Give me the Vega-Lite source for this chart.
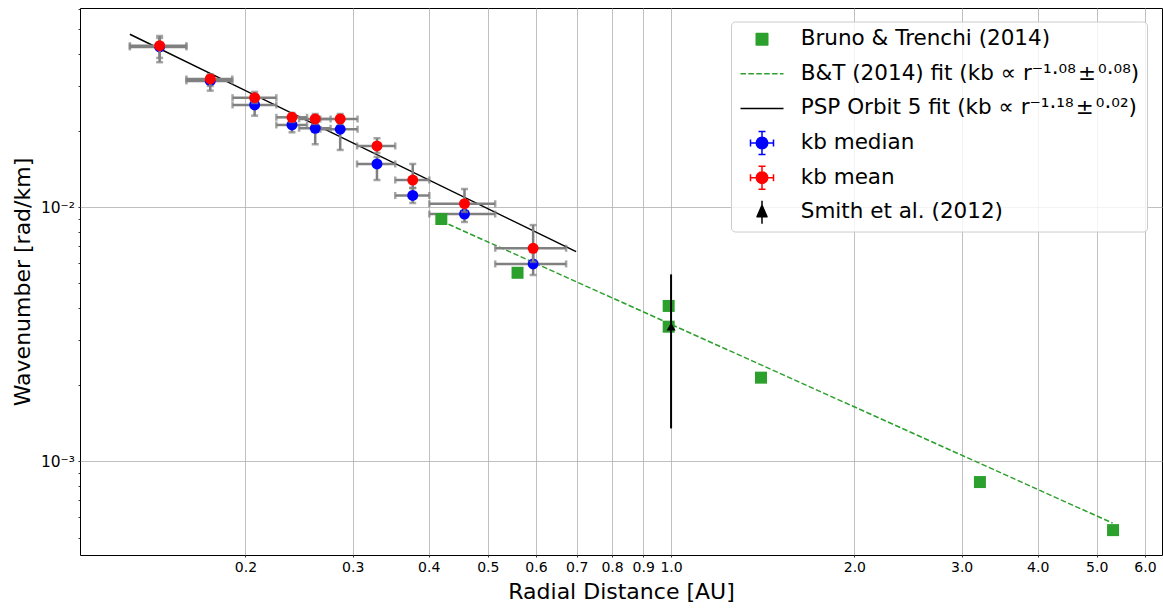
{
  "$schema": "https://vega.github.io/schema/vega-lite/v6.json",
  "width": 1082,
  "height": 547,
  "autosize": {"type": "none"},
  "padding": {"left": 80, "top": 8, "right": 1, "bottom": 53},
  "background": "white",
  "config": {
    "view": {"stroke": "black", "strokeWidth": 1},
    "font": "DejaVu Sans",
    "axis": {
      "domain": false,
      "labelFont": "DejaVu Sans",
      "labelFontSize": 14,
      "labelColor": "black",
      "tickColor": "black",
      "tickWidth": 0.8,
      "tickSize": 2,
      "labelPadding": 3.5,
      "labelOverlap": false,
      "labelFlush": false,
      "gridColor": "#b0b0b0",
      "gridWidth": 0.8,
      "titleFont": "DejaVu Sans",
      "titleFontSize": 22,
      "titleFontWeight": "normal",
      "titleColor": "black"
    }
  },
  "datasets": {
    "psp": [
      {"r": 0.1446, "r_lo": 0.1292, "r_hi": 0.160, "med": 0.04265, "med_lo": 0.03714, "med_hi": 0.04627, "mean": 0.04315, "mean_lo": 0.03861, "mean_hi": 0.04711},
      {"r": 0.1751, "r_lo": 0.160, "r_hi": 0.1903, "med": 0.03133, "med_lo": 0.02870, "med_hi": 0.03293, "mean": 0.03191, "mean_lo": 0.02995, "mean_hi": 0.0333},
      {"r": 0.2071, "r_lo": 0.1905, "r_hi": 0.2248, "med": 0.02521, "med_lo": 0.02288, "med_hi": 0.02687, "mean": 0.02694, "mean_lo": 0.02567, "mean_hi": 0.02836},
      {"r": 0.2385, "r_lo": 0.2248, "r_hi": 0.2525, "med": 0.02103, "med_lo": 0.01968, "med_hi": 0.02220, "mean": 0.02254, "mean_lo": 0.02161, "mean_hi": 0.02345},
      {"r": 0.2604, "r_lo": 0.2450, "r_hi": 0.2760, "med": 0.02041, "med_lo": 0.01766, "med_hi": 0.02240, "mean": 0.02220, "mean_lo": 0.02123, "mean_hi": 0.02323},
      {"r": 0.2862, "r_lo": 0.2655, "r_hi": 0.3056, "med": 0.02023, "med_lo": 0.01677, "med_hi": 0.02260, "mean": 0.02220, "mean_lo": 0.02123, "mean_hi": 0.02323},
      {"r": 0.3289, "r_lo": 0.3050, "r_hi": 0.3524, "med": 0.01477, "med_lo": 0.01277, "med_hi": 0.01574, "mean": 0.01739, "mean_lo": 0.01632, "mean_hi": 0.01865},
      {"r": 0.3765, "r_lo": 0.3524, "r_hi": 0.4009, "med": 0.01110, "med_lo": 0.01037, "med_hi": 0.01188, "mean": 0.01277, "mean_lo": 0.01188, "mean_hi": 0.01477},
      {"r": 0.4579, "r_lo": 0.4009, "r_hi": 0.5143, "med": 0.00938, "med_lo": 0.00873, "med_hi": 0.01018, "mean": 0.01030, "mean_lo": 0.00956, "mean_hi": 0.01177},
      {"r": 0.5936, "r_lo": 0.5143, "r_hi": 0.6725, "med": 0.00597, "med_lo": 0.00540, "med_hi": 0.00665, "mean": 0.00688, "mean_lo": 0.00608, "mean_hi": 0.00849}
    ],
    "bt": [
      {"r": 0.4195, "k": 0.00897},
      {"r": 0.5596, "k": 0.00551},
      {"r": 0.991, "k": 0.00408},
      {"r": 0.991, "k": 0.00338},
      {"r": 1.405, "k": 0.00213},
      {"r": 3.215, "k": 0.000827},
      {"r": 5.319, "k": 0.000535}
    ],
    "btfit": [
      {"r": 0.4195, "k": 0.00881},
      {"r": 5.31, "k": 0.000570}
    ],
    "pspfit": [
      {"r": 0.1292, "k": 0.04785},
      {"r": 0.6983, "k": 0.00667}
    ],
    "smith": [
      {"r": 1.0, "k": 0.00338, "k_lo": 0.001345, "k_hi": 0.00543}
    ]
  },
  "layer": [
    {
      "data": {"name": "btfit"},
      "mark": {"type": "line", "strokeDash": [5.5, 2.4], "strokeWidth": 1.5},
      "encoding": {
        "x": {
          "field": "r", "type": "quantitative", "title": "Radial Distance [AU]",
          "scale": {"type": "log", "domain": [0.107, 6.4], "nice": false},
          "axis": {
            "values": [0.2, 0.3, 0.4, 0.5, 0.6, 0.7, 0.8, 0.9, 1, 2, 3, 4, 5, 6],
            "labelExpr": "format(datum.value, '.1f')",
            "titlePadding": 7,
            "encode": {
              "ticks": {"update": {"y2": {"signal": "datum.value == 1 ? 3.5 : 2"}}},
              "labels": {"update": {"dy": {"signal": "datum.value == 1 ? 2.5 : 0"}}}
            }
          }
        },
        "y": {
          "field": "k", "type": "quantitative", "title": "Wavenumber [rad/km]",
          "scale": {"type": "log", "domain": [0.000427, 0.0607], "nice": false},
          "axis": {
            "values": [0.0005, 0.0006, 0.0007, 0.0008, 0.0009, 0.001, 0.002, 0.003, 0.004, 0.005, 0.006, 0.007, 0.008, 0.009, 0.01, 0.02, 0.03, 0.04, 0.05, 0.06],
            "labelExpr": "datum.value == 0.01 ? '10⁻²' : (datum.value == 0.001 ? '10⁻³' : '')",
            "labelFontSize": 15.5,
            "gridOpacity": {"condition": {"test": "datum.value == 0.01 || datum.value == 0.001", "value": 1}, "value": 0},
            "titlePadding": 6,
            "encode": {
              "ticks": {"update": {"x2": {"signal": "(datum.value == 0.01 || datum.value == 0.001) ? -3.5 : -2"}}}
            }
          }
        },
        "color": {
          "datum": "B&T (2014) fit (kb ∝ r⁻¹·⁰⁸\u200a±\u200a⁰·⁰⁸)",
          "type": "nominal",
          "scale": {
            "domain": ["Bruno & Trenchi (2014)", "B&T (2014) fit (kb ∝ r⁻¹·⁰⁸\u200a±\u200a⁰·⁰⁸)", "PSP Orbit 5 fit (kb ∝ r⁻¹·¹⁸\u200a±\u200a⁰·⁰²)", "kb median", "kb mean", "Smith et al. (2012)"],
            "range": ["#2ca02c", "#2ca02c", "black", "blue", "red", "black"]
          },
          "legend": {
            "title": null,
            "orient": "none",
            "legendX": 651,
            "legendY": 13.5,
            "titlePadding": 0,
            "padding": 7,
            "symbolOffset": 13.25,
            "labelOffset": 28,
            "rowPadding": 9.6,
            "labelFont": "DejaVu Sans",
            "labelFontSize": 21.5,
            "labelColor": "black",
            "labelLimit": 700,
            "strokeColor": "#cccccc",
            "fillColor": "rgba(255,255,255,0.8)",
            "cornerRadius": 4,
            "encode": {
              "symbols": {
                "update": {
                  "shape": {"signal": "['M0,-2.3M0,2.3M-1.15,-1.15H1.15V1.15H-1.15Z', 'M0,-2.3M0,2.3M-4.3,0H4.3', 'M0,-2.3M0,2.3M-4.3,0H4.3', 'M1.15,0L1.062,0.44L0.813,0.813L0.44,1.062L0,1.15L-0.44,1.062L-0.813,0.813L-1.062,0.44L-1.15,0L-1.062,-0.44L-0.813,-0.813L-0.44,-1.062L0,-1.15L0.44,-1.062L0.813,-0.813L1.062,-0.44ZM-2.3,0H-1.15M1.15,0H2.3M0,-2.3V-1.15M0,1.15V2.3M-2.3,-0.7V0.7M2.3,-0.7V0.7M-0.7,-2.3H0.7M-0.7,2.3H0.7', 'M1.15,0L1.062,0.44L0.813,0.813L0.44,1.062L0,1.15L-0.44,1.062L-0.813,0.813L-1.062,0.44L-1.15,0L-1.062,-0.44L-0.813,-0.813L-0.44,-1.062L0,-1.15L0.44,-1.062L0.813,-0.813L1.062,-0.44ZM-2.3,0H-1.15M1.15,0H2.3M0,-2.3V-1.15M0,1.15V2.3M-2.3,-0.7V0.7M2.3,-0.7V0.7M-0.7,-2.3H0.7M-0.7,2.3H0.7', 'M0,-2.3V2.3M0,-1.4L1,0.9L-1,0.9Z'][datum.index]"},
                  "fill": {"signal": "['#2ca02c', 'transparent', 'transparent', 'blue', 'red', 'black'][datum.index]"},
                  "stroke": {"signal": "['#2ca02c', '#2ca02c', 'black', '#808080', '#808080', 'black'][datum.index]"},
                  "strokeDash": {"signal": "[[], [5.5, 2.4], [], [], [], []][datum.index]"},
                  "strokeJoin": {"value": "round"},
                  "size": {"value": 100},
                  "strokeWidth": {"value": 1.5},
                  "opacity": {"value": 1},
                  "fillOpacity": {"value": 1},
                  "strokeOpacity": {"value": 1}
                }
              }
            }
          }
        }
      }
    },
    {
      "data": {"name": "pspfit"},
      "mark": {"type": "line", "strokeWidth": 1.5},
      "encoding": {
        "x": {"field": "r", "type": "quantitative", "title": "Radial Distance [AU]"},
        "y": {"field": "k", "type": "quantitative", "title": "Wavenumber [rad/km]"},
        "color": {"datum": "PSP Orbit 5 fit (kb ∝ r⁻¹·¹⁸\u200a±\u200a⁰·⁰²)", "type": "nominal"}
      }
    },
    {
      "data": {"name": "psp"},
      "mark": {"type": "errorbar", "ticks": true, "color": "#808080", "thickness": 2.5, "size": 7},
      "encoding": {
        "x": {"field": "r_lo", "type": "quantitative", "title": "Radial Distance [AU]"},
        "x2": {"field": "r_hi"},
        "y": {"field": "med", "type": "quantitative", "title": "Wavenumber [rad/km]"}
      }
    },
    {
      "data": {"name": "psp"},
      "mark": {"type": "errorbar", "ticks": true, "color": "#808080", "thickness": 2.5, "size": 7},
      "encoding": {
        "y": {"field": "med_lo", "type": "quantitative", "title": "Wavenumber [rad/km]"},
        "y2": {"field": "med_hi"},
        "x": {"field": "r", "type": "quantitative", "title": "Radial Distance [AU]"}
      }
    },
    {
      "data": {"name": "psp"},
      "mark": {"type": "point", "filled": true, "shape": "circle", "size": 120, "opacity": 1},
      "encoding": {
        "x": {"field": "r", "type": "quantitative", "title": "Radial Distance [AU]"},
        "y": {"field": "med", "type": "quantitative", "title": "Wavenumber [rad/km]"},
        "color": {"datum": "kb median", "type": "nominal"}
      }
    },
    {
      "data": {"name": "psp"},
      "mark": {"type": "errorbar", "ticks": true, "color": "#808080", "thickness": 2.5, "size": 7},
      "encoding": {
        "x": {"field": "r_lo", "type": "quantitative", "title": "Radial Distance [AU]"},
        "x2": {"field": "r_hi"},
        "y": {"field": "mean", "type": "quantitative", "title": "Wavenumber [rad/km]"}
      }
    },
    {
      "data": {"name": "psp"},
      "mark": {"type": "errorbar", "ticks": true, "color": "#808080", "thickness": 2.5, "size": 7},
      "encoding": {
        "y": {"field": "mean_lo", "type": "quantitative", "title": "Wavenumber [rad/km]"},
        "y2": {"field": "mean_hi"},
        "x": {"field": "r", "type": "quantitative", "title": "Radial Distance [AU]"}
      }
    },
    {
      "data": {"name": "psp"},
      "mark": {"type": "point", "filled": true, "shape": "circle", "size": 120, "opacity": 1},
      "encoding": {
        "x": {"field": "r", "type": "quantitative", "title": "Radial Distance [AU]"},
        "y": {"field": "mean", "type": "quantitative", "title": "Wavenumber [rad/km]"},
        "color": {"datum": "kb mean", "type": "nominal"}
      }
    },
    {
      "data": {"name": "bt"},
      "mark": {"type": "point", "filled": true, "shape": "square", "size": 144, "opacity": 1},
      "encoding": {
        "x": {"field": "r", "type": "quantitative", "title": "Radial Distance [AU]"},
        "y": {"field": "k", "type": "quantitative", "title": "Wavenumber [rad/km]"},
        "color": {"datum": "Bruno & Trenchi (2014)", "type": "nominal"}
      }
    },
    {
      "data": {"name": "smith"},
      "mark": {"type": "rule", "color": "black", "strokeWidth": 2},
      "encoding": {
        "x": {"field": "r", "type": "quantitative", "title": "Radial Distance [AU]"},
        "y": {"field": "k_lo", "type": "quantitative", "title": "Wavenumber [rad/km]"},
        "y2": {"field": "k_hi"}
      }
    },
    {
      "data": {"name": "smith"},
      "mark": {"type": "point", "filled": true, "shape": "triangle-up", "size": 80, "opacity": 1},
      "encoding": {
        "x": {"field": "r", "type": "quantitative", "title": "Radial Distance [AU]"},
        "y": {"field": "k", "type": "quantitative", "title": "Wavenumber [rad/km]"},
        "color": {"datum": "Smith et al. (2012)", "type": "nominal"}
      }
    }
  ]
}
